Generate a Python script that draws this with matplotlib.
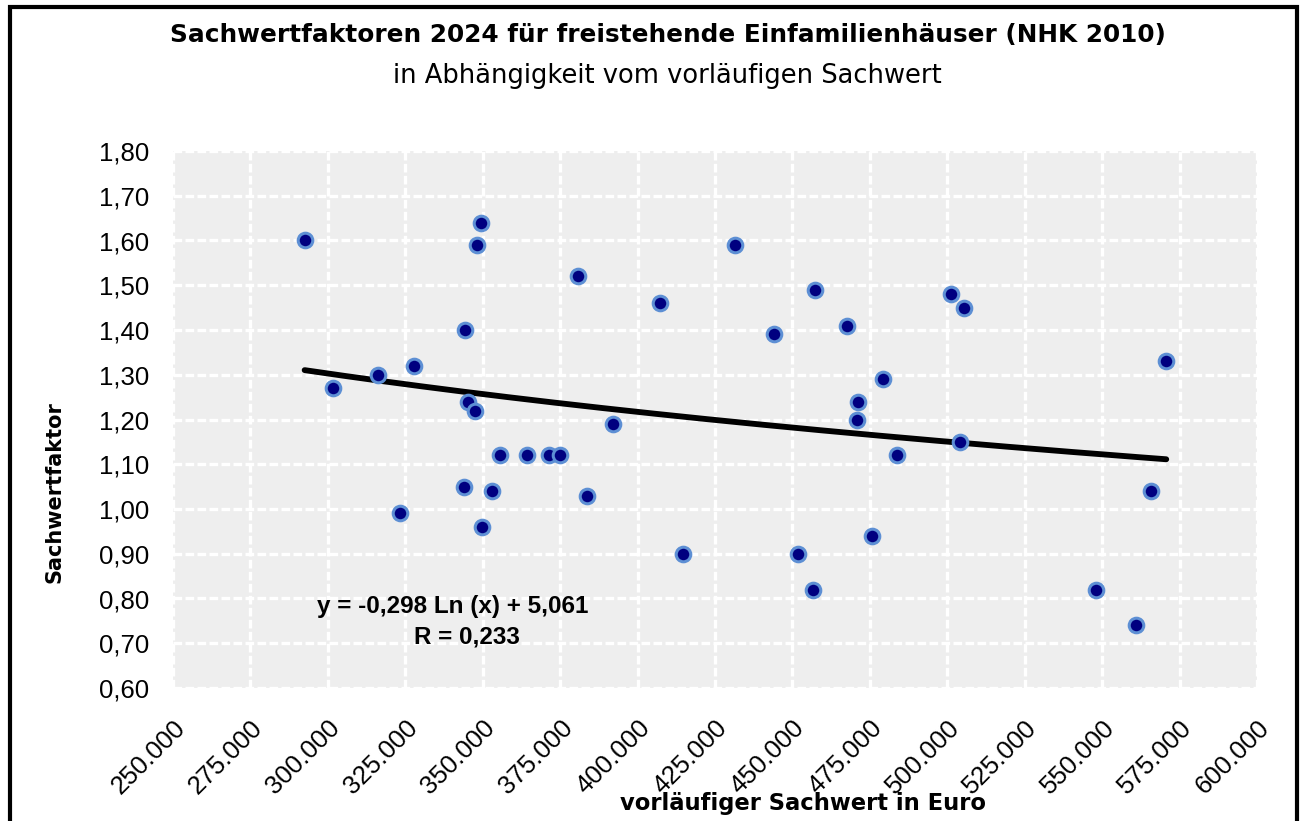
import numpy as np
import matplotlib
matplotlib.use("Agg")
import matplotlib.pyplot as plt
from matplotlib.patches import Rectangle

# ---------------- data ----------------
sachwert = [292500, 301700, 316300, 323400, 327700, 344000, 344200, 345400,
            347600, 348200, 349400, 349800, 353100, 355500, 364300, 371400,
            374900, 380700, 383800, 392100, 407200, 414800, 431400, 444000,
            451900, 456700, 457300, 467700, 470700, 471200, 475600, 479100,
            483700, 501200, 504000, 505500, 548100, 560900, 565800, 570700]
faktor = [1.60, 1.27, 1.30, 0.99, 1.32, 1.05, 1.40, 1.24,
          1.22, 1.59, 1.64, 0.96, 1.04, 1.12, 1.12, 1.12,
          1.12, 1.52, 1.03, 1.19, 1.46, 0.90, 1.59, 1.39,
          0.90, 0.82, 1.49, 1.41, 1.20, 1.24, 0.94, 1.29,
          1.12, 1.48, 1.15, 1.45, 0.82, 0.74, 1.04, 1.33]

trend_a = -0.298
trend_b = 5.061
trend_r = 0.233

x_ticks = [250000, 275000, 300000, 325000, 350000, 375000, 400000, 425000,
           450000, 475000, 500000, 525000, 550000, 575000, 600000]
x_ticklabels = ["250.000", "275.000", "300.000", "325.000", "350.000",
                "375.000", "400.000", "425.000", "450.000", "475.000",
                "500.000", "525.000", "550.000", "575.000", "600.000"]
y_ticks = [0.60, 0.70, 0.80, 0.90, 1.00, 1.10, 1.20, 1.30, 1.40, 1.50,
           1.60, 1.70, 1.80]
y_ticklabels = ["0,60", "0,70", "0,80", "0,90", "1,00", "1,10", "1,20",
                "1,30", "1,40", "1,50", "1,60", "1,70", "1,80"]

title = "Sachwertfaktoren 2024 für freistehende Einfamilienhäuser (NHK 2010)"
subtitle = "in Abhängigkeit vom vorläufigen Sachwert"
xlabel = "vorläufiger Sachwert in Euro"
ylabel = "Sachwertfaktor"

# ---------------- figure ----------------
W, H = 1304, 821
fig = plt.figure(figsize=(W / 100, H / 100), dpi=100)
fig.patch.set_facecolor("white")

def fx(px):
    return px / W

def fy(py):
    return 1 - py / H

tick_font = ["Liberation Sans", "DejaVu Sans"]

ax = fig.add_axes([fx(173), fy(688), fx(1257) - fx(173), fy(151) - fy(688)])
ax.set_facecolor("#eeeeee")
for s in ax.spines.values():
    s.set_visible(False)

ax.set_xlim(250000, 600000)
ax.set_ylim(0.60, 1.80)
ax.set_xticks(x_ticks)
ax.set_xticklabels(x_ticklabels, rotation=45, ha="right", va="top",
                   rotation_mode="anchor", fontsize=18.5, family=tick_font)
ax.set_yticks(y_ticks)
ax.set_yticklabels(y_ticklabels, fontsize=18.5, family=tick_font)
ax.tick_params(axis="both", length=0)
ax.tick_params(axis="y", pad=17)
ax.tick_params(axis="x", pad=20)

ax.grid(True, color="white", linestyle=(0, (2.6, 1.0)), linewidth=2.4)
ax.set_axisbelow(True)

# trend line (logarithmic)
xs = np.linspace(min(sachwert), max(sachwert), 200)
ax.plot(xs, trend_a * np.log(xs) + trend_b, color="black", lw=4.2,
        solid_capstyle="round", zorder=3)

ax.plot(sachwert, faktor, linestyle="none", marker="o", markersize=10.5,
        markerfacecolor="#000080", markeredgecolor="#5d8fd4",
        markeredgewidth=2.2, zorder=4)

# equation text
eq_font = ["Liberation Sans", "DejaVu Sans"]
fig.text(fx(453), fy(613), "y = -0,298 Ln (x) + 5,061",
         ha="center", va="baseline", fontsize=17.5, fontweight="bold",
         family=eq_font, zorder=5)
fig.text(fx(467), fy(643), "R = 0,233",
         ha="center", va="baseline", fontsize=17.5, fontweight="bold",
         family=eq_font, zorder=5)

# titles and axis labels
fig.text(fx(668), fy(41.7), title, ha="center", va="baseline",
         fontsize=17.8, fontweight="bold", family=["DejaVu Sans"])
fig.text(fx(667), fy(83.3), subtitle, ha="center", va="baseline",
         fontsize=18.5, family=["DejaVu Sans"])
fig.text(fx(803), fy(810), xlabel, ha="center", va="baseline",
         fontsize=16.3, fontweight="bold", family=["DejaVu Sans"])
fig.text(fx(55), fy(491.7), ylabel, ha="center", va="center", rotation=90,
         fontsize=15, fontweight="bold", family=["DejaVu Sans"])

# outer frame
fig.patches.append(Rectangle((fx(9.5), fy(900)), fx(1297) - fx(9.5),
                             fy(7.5) - fy(900), transform=fig.transFigure,
                             fill=False, edgecolor="black", linewidth=3.0))

fig.savefig("out.png", dpi=100)
